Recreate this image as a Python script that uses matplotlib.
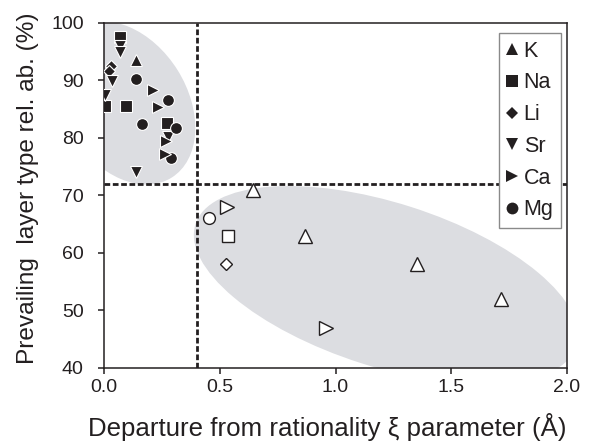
import numpy as np
import matplotlib
matplotlib.use('Agg')
import matplotlib.pyplot as plt
from matplotlib.patches import Ellipse
from matplotlib.transforms import Affine2D
from matplotlib.lines import Line2D

plt.rcParams['font.family'] = ['Liberation Sans', 'DejaVu Sans']

# filled points (rational cluster)
K_x = [0.14]
K_y = [93.5]
Na_x = [0.07, 0.005, 0.095, 0.27]
Na_y = [97.5, 85.5, 85.5, 82.6]
Li_x = [0.03, 0.02]
Li_y = [92.6, 91.7]
Sr_x = [0.07, 0.07, 0.033, 0.005, 0.14, 0.278]
Sr_y = [96.0, 95.0, 89.9, 87.5, 74.0, 80.2]
Mg_x = [0.138, 0.278, 0.163, 0.311, 0.29]
Mg_y = [90.3, 86.6, 82.4, 81.7, 76.5]
Ca_x = [0.213, 0.235, 0.268, 0.265]
Ca_y = [88.3, 85.4, 79.4, 77.3]

# open points (irrational cluster)
oK_x = [0.645, 0.87, 1.35, 1.715]
oK_y = [71, 63, 58, 52]
oNa_x = [0.535]
oNa_y = [63]
oLi_x = [0.525]
oLi_y = [58]
oCa_x = [0.53, 0.96]
oCa_y = [68, 47]
oMg_x = [0.455]
oMg_y = [66]

xi_cut = 0.4
ab_cut = 72

dark = '#231f20'
shade = '#dcdde1'

fig = plt.figure(figsize=(5.93, 4.44), dpi=100)
ax = fig.add_axes([0.1754, 0.1712, 0.7808, 0.7770])

# shaded ellipses, sizes given in pixels then scaled to data units
px_x = 231.5
px_y = 5.75
e1 = Ellipse((0, 0), 2 * 88, 2 * 62, angle=-58, facecolor=shade, edgecolor='none', zorder=0)
e1.set_transform(Affine2D().scale(1 / px_x, 1 / px_y).translate(0.0907, 86.09) + ax.transData)
ax.add_patch(e1)
e2 = Ellipse((0, 0), 2 * 200, 2 * 82, angle=-17.7, facecolor=shade, edgecolor='none', zorder=0)
e2.set_transform(Affine2D().scale(1 / px_x, 1 / px_y).translate(1.218, 54.43) + ax.transData)
ax.add_patch(e2)

dash = (0, (2.05, 0.95))
ax.axvline(xi_cut, color=dark, lw=2, ls=dash, zorder=1)
ax.axhline(ab_cut, color=dark, lw=2, ls=dash, zorder=1)

filled = dict(ls='none', mfc=dark, mec='white', mew=0.8, zorder=3)
ax.plot(Na_x, Na_y, marker='s', ms=8, **filled)
ax.plot(K_x, K_y, marker='^', ms=9, **filled)
ax.plot(Li_x, Li_y, marker='D', ms=6, **filled)
ax.plot(Sr_x, Sr_y, marker='v', ms=9, **filled)
ax.plot(Mg_x, Mg_y, marker='o', ms=8.5, **filled)
ax.plot(Ca_x, Ca_y, marker='>', ms=9, **filled)

hollow = dict(ls='none', mfc='white', mec=dark, mew=1.0, zorder=3)
ax.plot(oK_x, oK_y, marker='^', ms=9.5, **hollow)
ax.plot(oNa_x, oNa_y, marker='s', ms=8.7, **hollow)
ax.plot(oLi_x, oLi_y, marker='D', ms=6, **hollow)
ax.plot(oCa_x, oCa_y, marker='>', ms=9.5, **hollow)
ax.plot(oMg_x, oMg_y, marker='o', ms=8.5, **hollow)

ax.set_xlim(0, 2.0)
ax.set_ylim(40, 100)
ax.set_xticks([0.0, 0.5, 1.0, 1.5, 2.0])
ax.set_xticklabels(['0.0', '0.5', '1.0', '1.5', '2.0'])
ax.set_yticks([40, 50, 60, 70, 80, 90, 100])
ax.tick_params(direction='out', length=4.5, width=1.1, colors=dark, labelsize=14, labelcolor=dark)
ax.tick_params(axis='y', pad=10)
for s in ax.spines.values():
    s.set_color(dark)
    s.set_linewidth(1.1)

ax.set_xlabel('Departure from rationality \u03be parameter (\u00c5)', fontsize=18.6, color=dark)
ax.xaxis.set_label_coords(0.483, -0.13)
ax.set_ylabel('Prevailing  layer type rel. ab. (%)', fontsize=17.6, color=dark)
ax.yaxis.set_label_coords(-0.14, 0.52)

names = ['K', 'Na', 'Li', 'Sr', 'Ca', 'Mg']
marks = ['^', 's', 'D', 'v', '>', 'o']
sizes = [9, 8, 6.2, 9, 9, 8.5]
handles = [Line2D([], [], ls='none', marker=m, ms=s, mfc=dark, mec=dark, mew=0) for m, s in zip(marks, sizes)]
leg = ax.legend(handles, names, loc='upper right', bbox_to_anchor=(0.987, 0.971), fontsize=15.5,
                frameon=True, fancybox=False, edgecolor='#8a8a8a', framealpha=1,
                handlelength=0.55, handletextpad=0.25, labelspacing=0.5, borderpad=0.35,
                borderaxespad=0)
leg.get_frame().set_linewidth(1.0)
for t in leg.get_texts():
    t.set_color(dark)
leg.set_zorder(5)

fig.savefig('out.png', dpi=100)
